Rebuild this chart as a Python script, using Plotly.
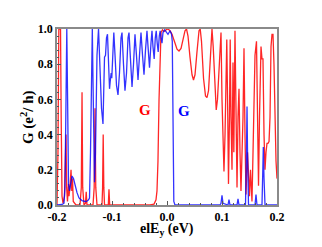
import plotly.graph_objects as go

# Blue curve (G, second channel)
blue_x = [-0.2, -0.1909, -0.1873, -0.1855, -0.1836, -0.1822, -0.1807, -0.1791, -0.1773, -0.1755,
          -0.1727, -0.1700, -0.1673, -0.1636, -0.16, -0.1545, -0.1491, -0.1455, -0.1427, -0.1409,
          -0.1391, -0.1373, -0.1358, -0.1345, -0.1318, -0.13, -0.1273, -0.1245, -0.1218, -0.1191,
          -0.1164, -0.1149, -0.1136, -0.1118, -0.11, -0.1082, -0.1064, -0.1045, -0.1027, -0.1015,
          -0.1004, -0.0991, -0.0967, -0.0945, -0.0918, -0.0891, -0.0864, -0.0836, -0.0818, -0.0791,
          -0.0764, -0.0736, -0.0709, -0.0691, -0.0664, -0.0636, -0.0609, -0.0582, -0.0555, -0.0527,
          -0.05, -0.0473, -0.0445, -0.0418, -0.0391, -0.0364, -0.0345, -0.0318, -0.0291, -0.0273,
          -0.0255, -0.0233, -0.0213, -0.0196, -0.0178, -0.016, -0.014, -0.0124, -0.0109, -0.0091,
          -0.0073, -0.0045, -0.0018, 0.0018, 0.0055, 0.0082, 0.0096, 0.0109, 0.0124, 0.0145,
          0.0964, 0.0982, 0.1, 0.1018, 0.1109, 0.1127, 0.1145, 0.1273, 0.1291, 0.1309,
          0.1427, 0.1445, 0.1455, 0.1464, 0.1482, 0.16, 0.1618, 0.1636, 0.1727, 0.1742,
          0.1751, 0.1764, 0.1782, 0.2]
blue_y = [0.0, 0.003, 0.01, 0.1, 0.6, 1.0, 0.6, 0.12, 0.08, 0.12,
          0.165, 0.15, 0.11, 0.07, 0.04, 0.025, 0.02, 0.022, 0.03, 0.04,
          0.3, 0.9, 1.0, 0.7, 0.13, 0.3, 0.85, 1.0, 0.8, 0.55,
          0.46, 0.7, 0.84, 0.85, 0.95, 0.97, 0.8, 0.66, 0.72, 0.75,
          0.72, 0.85, 0.98, 0.85, 0.68, 0.625, 0.75, 0.95, 0.98, 0.8,
          0.65, 0.75, 0.95, 0.98, 0.8, 0.67, 0.8, 0.97, 0.85, 0.71,
          0.85, 0.98, 0.85, 0.74, 0.88, 0.99, 0.9, 0.78, 0.92, 0.99,
          0.9, 0.83, 0.95, 0.99, 0.92, 0.87, 0.96, 0.99, 0.95, 0.92,
          0.98, 0.995, 0.985, 0.97, 0.99, 0.97, 0.93, 0.5, 0.02, 0.0,
          0.0, 0.01, 0.055, 0.01, 0.0, 0.03, 0.0, 0.0, 0.035, 0.0,
          0.0, 0.3, 0.56, 0.3, 0.0, 0.0, 0.06, 0.0, 0.0, 0.2,
          0.33, 0.15, 0.0, 0.0]

# Red curve (G, first channel)
red_x = [-0.2, -0.1982, -0.1967, -0.1936, -0.1924, -0.1909, -0.1891, -0.1864, -0.1845, -0.1836,
         -0.1825, -0.1809, -0.1791, -0.1782, -0.1764, -0.1745, -0.1731, -0.1718, -0.1704, -0.1655,
         -0.1582, -0.1558, -0.1545, -0.1533, -0.1509, -0.1482, -0.1469, -0.1455, -0.1345, -0.1324,
         -0.1309, -0.1295, -0.1273, -0.1182, -0.1171, -0.116, -0.1149, -0.1136, -0.1067, -0.1055,
         -0.1042, -0.0855, -0.0309, -0.0236, -0.02, -0.0182, -0.0164, -0.0145, -0.0127, -0.0109,
         -0.0082, -0.0055, -0.0018, 0.0018, 0.0055, 0.0091, 0.0145, 0.0182, 0.0218, 0.0255,
         0.0291, 0.0327, 0.0355, 0.0382, 0.0418, 0.0455, 0.0482, 0.0509, 0.0545, 0.0582,
         0.0604, 0.0627, 0.0664, 0.07, 0.0727, 0.0755, 0.0791, 0.0818, 0.084, 0.0869,
         0.0895, 0.0918, 0.0955, 0.0982, 0.1, 0.1018, 0.1036, 0.1055, 0.1087, 0.1105,
         0.1118, 0.1136, 0.1149, 0.1164, 0.1182, 0.12, 0.1215, 0.1236, 0.1255, 0.1273,
         0.1291, 0.1309, 0.1327, 0.1345, 0.1382, 0.14, 0.1418, 0.1436, 0.1464, 0.1482,
         0.15, 0.1518, 0.1545, 0.1564, 0.1582, 0.16, 0.1627, 0.1645, 0.1664, 0.1682,
         0.1709, 0.1727, 0.1745, 0.1764, 0.1782, 0.18, 0.1818, 0.1836, 0.1855, 0.1873,
         0.1891, 0.1909, 0.1927, 0.1945, 0.1964, 0.1982, 0.2]
red_y = [0.0, 0.3, 1.0, 1.0, 0.5, 0.05, 0.01, 0.05, 0.3, 0.40,
         0.1, 0.02, 0.12, 0.05, 0.1, 0.2, 0.08, 0.15, 0.02, 0.0,
         0.0, 0.1, 0.64, 0.1, 0.0, 0.01, 0.075, 0.0, 0.0, 0.1,
         0.55, 0.1, 0.0, 0.0, 0.1, 0.40, 0.1, 0.0, 0.0, 0.09,
         0.0, 0.0, 0.0, 0.005, 0.03, 0.08, 0.25, 0.6, 0.9, 0.98,
         0.995, 0.985, 0.995, 1.0, 0.99, 0.97, 0.92, 0.885, 0.875, 0.89,
         0.94, 0.99, 1.0, 0.96, 0.84, 0.74, 0.71, 0.74, 0.87, 0.99,
         1.0, 0.93, 0.72, 0.62, 0.61, 0.65, 0.85, 1.0, 0.9, 0.65,
         0.54, 0.6, 0.85, 0.98, 0.6, 0.3, 0.19, 0.4, 0.94, 0.5,
         0.12, 0.5, 0.94, 0.5, 0.2, 0.81, 0.3, 0.99, 0.4, 0.1,
         0.5, 0.66, 0.3, 0.08, 0.5, 0.89, 0.4, 0.06, 0.3, 0.1,
         0.05, 0.2, 0.02, 0.3, 0.71, 0.85, 0.93, 0.5, 0.11, 0.5,
         0.90, 0.83, 0.83, 0.4, 0.2, 0.3, 0.35, 0.35, 0.36, 0.5,
         0.9, 0.97, 0.97, 0.8, 0.5, 0.25, 0.15]

x_ticks = [-0.2, -0.1, 0.0, 0.1, 0.2]
x_tick_text = ["-0.2", "-0.1", "0.0", "0.1", "0.2"]
y_ticks = [0.0, 0.2, 0.4, 0.6, 0.8, 1.0]
y_tick_text = ["0.0", "0.2", "0.4", "0.6", "0.8", "1.0"]

FONT = "Liberation Serif, Times New Roman, serif"

fig = go.Figure()
fig.add_trace(go.Scatter(x=red_x, y=red_y, mode="lines",
                         line=dict(color="rgba(255,0,0,0.85)", width=1.3), showlegend=False))
fig.add_trace(go.Scatter(x=blue_x, y=blue_y, mode="lines",
                         line=dict(color="rgba(0,0,255,0.8)", width=1.3), showlegend=False))

fig.add_annotation(x=-0.04, y=0.54, text="<b>G</b>", showarrow=False,
                   font=dict(family=FONT, size=15, color="red"))
fig.add_annotation(x=0.031, y=0.535, text="<b>G</b>", showarrow=False,
                   font=dict(family=FONT, size=15, color="blue"))

# axis titles placed in paper coordinates
fig.add_annotation(x=0.5, y=-0.197, xref="paper", yref="paper", yanchor="bottom",
                   text="<b>elE<sub>y</sub> (eV)</b>", showarrow=False,
                   font=dict(family=FONT, size=14, color="black"))
fig.add_annotation(x=-0.136, y=0.5, xref="paper", yref="paper", xanchor="center",
                   text="<b>G (e<sup>2</sup>/ h)</b>", showarrow=False, textangle=-90,
                   font=dict(family=FONT, size=15, color="black"))

axis_common = dict(showgrid=False, zeroline=False, showline=True, mirror=True,
                   linecolor="#8a8a8a", linewidth=1.5, ticks="inside", ticklen=4,
                   tickwidth=1, tickcolor="#555555", automargin=False,
                   tickfont=dict(family=FONT, size=12, color="black", weight="bold"))

fig.update_xaxes(range=[-0.2, 0.2], tickvals=x_ticks, ticktext=x_tick_text,
                 minor=dict(dtick=0.02, ticks="inside", ticklen=2, tickcolor="#555555"),
                 **axis_common)
fig.update_yaxes(range=[0, 1.0], tickvals=y_ticks, ticktext=y_tick_text,
                 minor=dict(dtick=0.04, ticks="inside", ticklen=2, tickcolor="#555555"),
                 **axis_common)

# page body has an 8px margin, so the figure is sized to fit inside the window
fig.update_layout(width=306, height=231, margin=dict(l=49, r=37, t=21, b=34),
                  paper_bgcolor="white", plot_bgcolor="white")

fig.write_html("out.html")
